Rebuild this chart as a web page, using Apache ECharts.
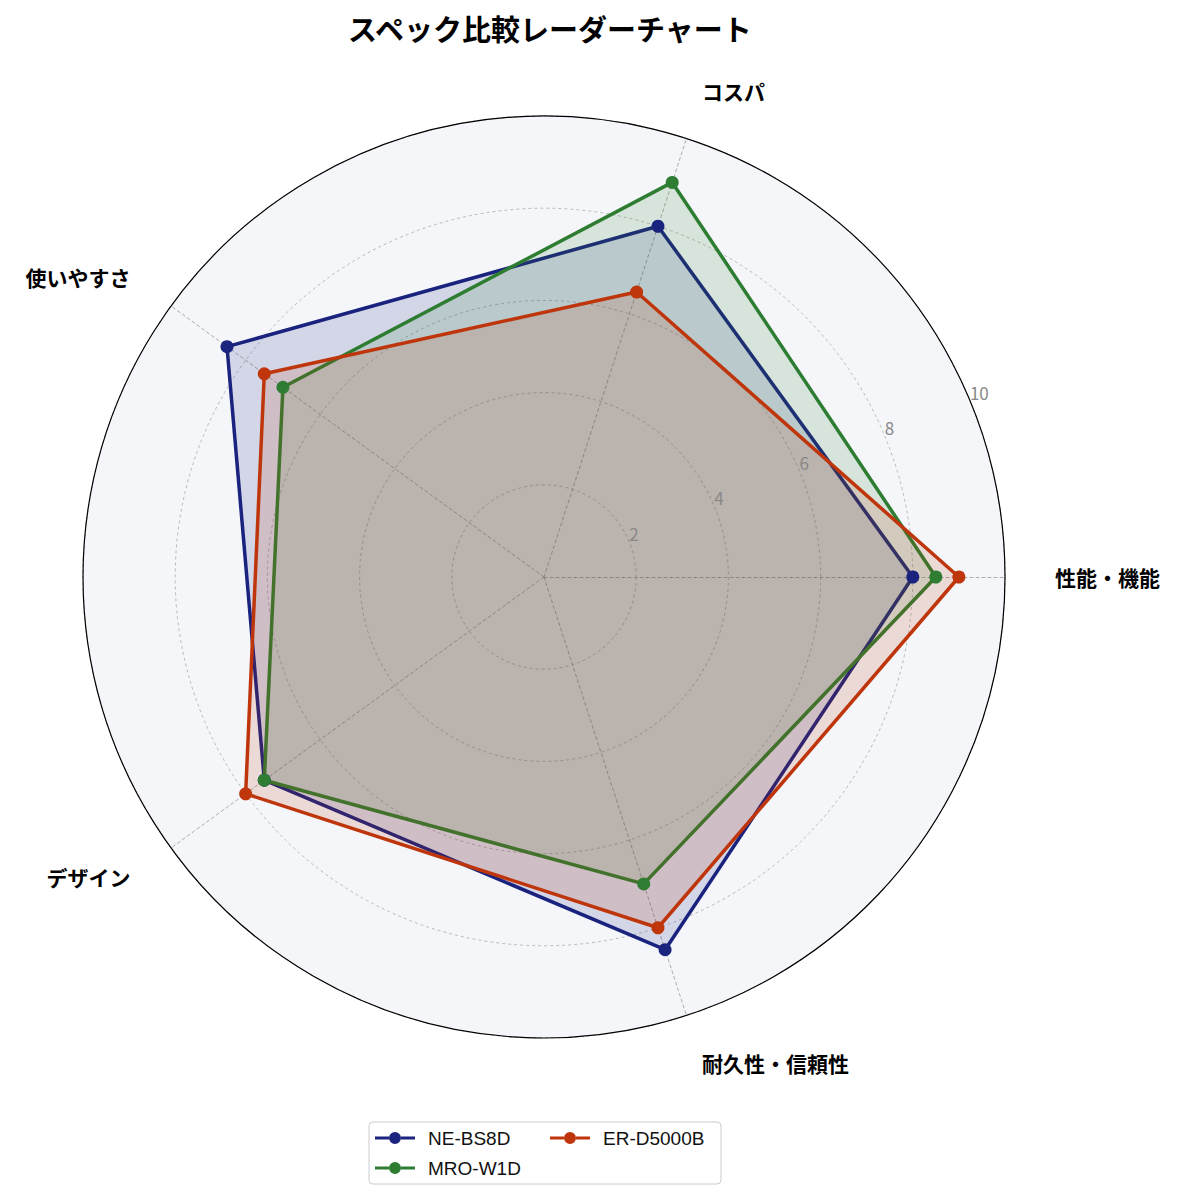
<!DOCTYPE html>
<html lang="ja">
<head>
    <meta charset="UTF-8">
    <title>スペック比較レーダーチャート</title>
    <script src="https://cdn.jsdelivr.net/npm/echarts@6/dist/echarts.min.js"></script>
    <style>
        body { margin: 0; background: #fff; }
    </style>
</head>
<body>
    <div id="chart" style="width: 1185px; height: 1200px;"></div>
    <script type="text/javascript">
        const FONT = '"Noto Sans CJK JP", "Noto Sans", sans-serif';

        const axes = ['性能・機能', 'コスパ', '使いやすさ', 'デザイン', '耐久性・信頼性'];
        const models = ['NE-BS8D', 'MRO-W1D', 'ER-D5000B'];
        const colors = ['#1a237e', '#2e7d32', '#bf360c'];
        const scoresNE = [8.0, 8.0, 8.5, 7.5, 8.5];
        const scoresMRO = [8.5, 9.0, 7.0, 7.5, 7.0];
        const scoresER = [9.0, 6.5, 7.5, 8.0, 8.0];
        const tickLabels = ['', '2', '4', '6', '8', '10'];

        const allScores = [scoresNE, scoresMRO, scoresER];
        const center = [544, 577];
        const radius = 461;

        // line + dot marker for the legend
        const legendIcon = 'path://M0,4.5 L14,4.5 L14,7.5 L0,7.5 Z M26,4.5 L40,4.5 L40,7.5 L26,7.5 Z ' +
            'M20,0 A6,6 0 1 1 20,12 A6,6 0 1 1 20,0 Z';

        let chart = echarts.init(document.getElementById('chart'), null, { renderer: 'svg' });

        chart.setOption({
            animation: false,
            textStyle: { fontFamily: FONT },
            title: {
                text: 'スペック比較レーダーチャート',
                left: 343,
                top: 8,
                textStyle: { fontSize: 29, fontWeight: 'bold', color: '#000', fontFamily: FONT }
            },
            legend: {
                orient: 'horizontal',
                data: [models[0], models[2], models[1]],
                left: 369,
                top: 1122,
                width: 345,
                padding: [6, 6],
                itemGap: 10,
                itemWidth: 40,
                itemHeight: 12,
                icon: legendIcon,
                borderColor: '#cccccc',
                borderWidth: 1,
                borderRadius: 4,
                textStyle: {
                    fontSize: 19,
                    color: '#111',
                    width: 112,
                    lineHeight: 20,
                    padding: [0, 0, 0, 8],
                    fontFamily: '"Liberation Sans", "Noto Sans", sans-serif'
                }
            },
            polar: {
                center: center,
                radius: radius
            },
            angleAxis: {
                type: 'value',
                min: 0,
                max: 360,
                startAngle: 22.5,
                z: 5,
                axisLine: { show: true, lineStyle: { color: '#000', width: 1.2 } },
                axisTick: { show: false },
                axisLabel: { show: false },
                splitLine: { show: false }
            },
            radiusAxis: {
                type: 'value',
                min: 0,
                max: 10,
                interval: 2,
                z: 5,
                axisLine: { show: false },
                axisTick: { show: false },
                splitLine: { show: false },
                axisLabel: {
                    color: '#888',
                    fontSize: 17,
                    margin: 0,
                    align: 'left',
                    verticalAlign: 'bottom',
                    formatter: (v) => tickLabels[v / 2]
                }
            },
            radar: {
                center: center,
                radius: radius,
                startAngle: 0,
                shape: 'circle',
                splitNumber: 5,
                nameGap: 50,
                indicator: axes.map(name => ({ name: name, min: 0, max: 10 })),
                axisName: {
                    color: '#000',
                    fontSize: 21,
                    fontWeight: 'bold',
                    fontFamily: FONT
                },
                axisLine: { lineStyle: { color: '#999', type: [3, 3], width: 0.8 } },
                axisTick: { show: false },
                axisLabel: { show: false },
                splitLine: { lineStyle: { color: '#aaa', type: [3, 3], width: 0.8 } },
                splitArea: { show: true, areaStyle: { color: ['#f4f6fa'] } }
            },
            series: [{
                type: 'radar',
                symbol: 'circle',
                symbolSize: 13,
                z: 3,
                data: models.map((name, i) => ({
                    name: name,
                    value: allScores[i],
                    itemStyle: { color: colors[i] },
                    lineStyle: { color: colors[i], width: 3.5 },
                    areaStyle: { color: colors[i], opacity: 0.15 }
                }))
            }]
        });
    </script>
</body>
</html>
